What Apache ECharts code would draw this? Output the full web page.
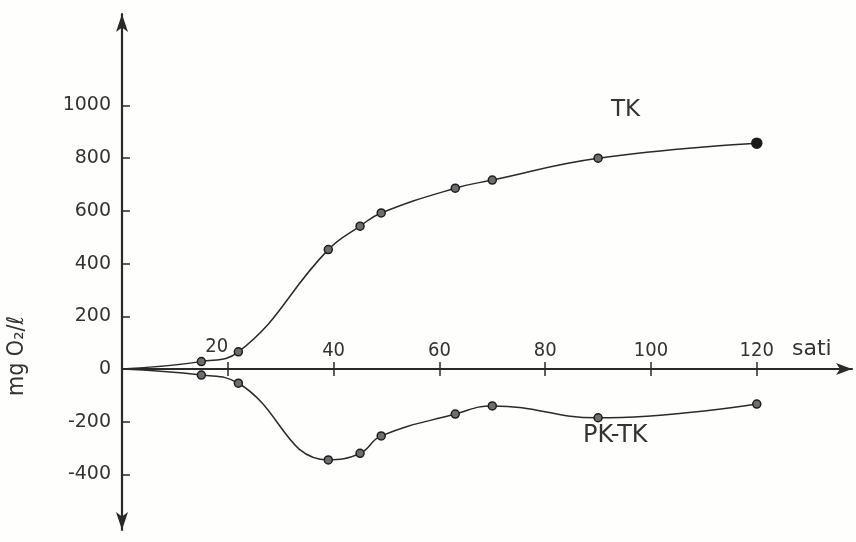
<!DOCTYPE html>
<html><head><meta charset="utf-8">
<script src="https://cdn.jsdelivr.net/npm/echarts@6/dist/echarts.min.js"></script>
<style>html,body{margin:0;padding:0;background:#fff}#c{width:856px;height:542px}</style>
</head><body><div id="c"></div>
<script>
// data (hours, mg O2/l)
const hours = [15, 22, 39, 45, 49, 63, 70, 90, 120];
const tkValues = [28, 65, 453, 542, 592, 686, 717, 800, 857];
const pkTkValues = [-23, -54, -345, -320, -254, -171, -140, -185, -133];
const startPoint = [0, 0];
const xTickLabels = [20, 40, 60, 80, 100, 120];
const yTickLabelsPos = [0, 200, 400, 600, 800, 1000];
const yTickLabelsNeg = [-400, -200];
const seriesNames = ['TK', 'PK-TK'];
const xAxisName = 'sati';
const yAxisName = 'mg O₂/ℓ';

const FONT_C = '"DejaVu Sans Condensed", "DejaVu Sans", sans-serif';
const FONT = '"DejaVu Sans", sans-serif';
const INK = '#2a2a2a';
const TXT = '#333';

function buildData(ys, lastBig) {
  const d = [{ value: startPoint, symbol: 'none' }];
  hours.forEach((h, i) => {
    const item = { value: [h, ys[i]] };
    if (lastBig && i === hours.length - 1) {
      item.symbolSize = 10;
      item.itemStyle = { color: '#1a1a1a' };
    }
    d.push(item);
  });
  return d;
}

const chart = echarts.init(document.getElementById('c'), null, { renderer: 'canvas' });
const lineStyle = { color: INK, width: 1.5 };
const itemStyle = { color: '#6e6e6e', borderColor: '#1e1e1e', borderWidth: 1.5 };
const tickStyle = { color: INK, width: 1.5 };
const xLabelBase = { color: TXT, fontFamily: FONT_C, fontSize: 20 };
const yLabelBase = { color: TXT, fontFamily: FONT, fontSize: 19 };

chart.setOption({
  backgroundColor: '#fefefc',
  animation: false,
  grid: [
    { left: 122, right: 4, top: 14, height: 355 },
    { left: 122, right: 4, top: 369, height: 161 }
  ],
  xAxis: [{
    gridIndex: 0, type: 'value', min: 0, max: 138, position: 'bottom',
    axisLine: { onZero: false, lineStyle: { color: INK, width: 2 }, symbol: ['none', 'arrow'], symbolSize: [9, 16] },
    axisTick: { show: true, inside: true, length: 7, lineStyle: tickStyle, customValues: xTickLabels },
    axisLabel: Object.assign({}, xLabelBase, {
      inside: true, margin: 8, customValues: xTickLabels,
      formatter: v => (v === 20 ? '{s|' + v + '}' : String(v)),
      rich: { s: Object.assign({}, xLabelBase, { padding: [0, 22, 4, 0] }) }
    }),
    splitLine: { show: false }
  }, {
    gridIndex: 1, type: 'value', min: 0, max: 138, position: 'top',
    axisLine: { show: false, onZero: false },
    axisTick: { show: true, inside: true, length: 7, lineStyle: tickStyle, customValues: xTickLabels },
    axisLabel: { show: false },
    splitLine: { show: false }
  }],
  yAxis: [{
    gridIndex: 0, type: 'value', min: 0, max: 1347,
    axisLine: { onZero: false, lineStyle: { color: INK, width: 2.2 }, symbol: ['none', 'arrow'], symbolSize: [9, 18] },
    axisTick: { show: true, inside: true, length: 8, lineStyle: tickStyle, customValues: yTickLabelsPos.filter(v => v !== 0) },
    axisLabel: Object.assign({}, yLabelBase, { margin: 11, customValues: yTickLabelsPos, formatter: v => String(v) }),
    splitLine: { show: false }
  }, {
    gridIndex: 1, type: 'value', min: -611, max: 0,
    axisLine: { onZero: false, lineStyle: { color: INK, width: 2.2 }, symbol: ['arrow', 'none'], symbolSize: [9, 18] },
    axisTick: { show: true, inside: true, length: 8, lineStyle: tickStyle, customValues: yTickLabelsNeg },
    axisLabel: Object.assign({}, yLabelBase, { margin: 11, customValues: yTickLabelsNeg, formatter: v => String(v) }),
    splitLine: { show: false }
  }],
  series: [
    { name: seriesNames[0], type: 'line', xAxisIndex: 0, yAxisIndex: 0, smooth: 0.45, data: buildData(tkValues, true),
      symbol: 'circle', symbolSize: 8, showAllSymbol: true, lineStyle, itemStyle, clip: false },
    { name: seriesNames[1], type: 'line', xAxisIndex: 1, yAxisIndex: 1, smooth: 0.45, data: buildData(pkTkValues, false),
      symbol: 'circle', symbolSize: 8, showAllSymbol: true, lineStyle, itemStyle, clip: false }
  ],
  graphic: [
    { type: 'text', left: 611, top: 99, style: { text: seriesNames[0], font: '23px ' + FONT, fill: TXT } },
    { type: 'text', left: 583, top: 424, style: { text: seriesNames[1], font: '24px ' + FONT, fill: TXT } },
    { type: 'text', left: 792, top: 338, style: { text: xAxisName, font: '22px ' + FONT, fill: TXT } },
    { type: 'text', x: 6, y: 396, rotation: Math.PI / 2,
      style: { text: yAxisName, font: '23px ' + FONT_C, fill: TXT } }
  ]
});
</script></body></html>
